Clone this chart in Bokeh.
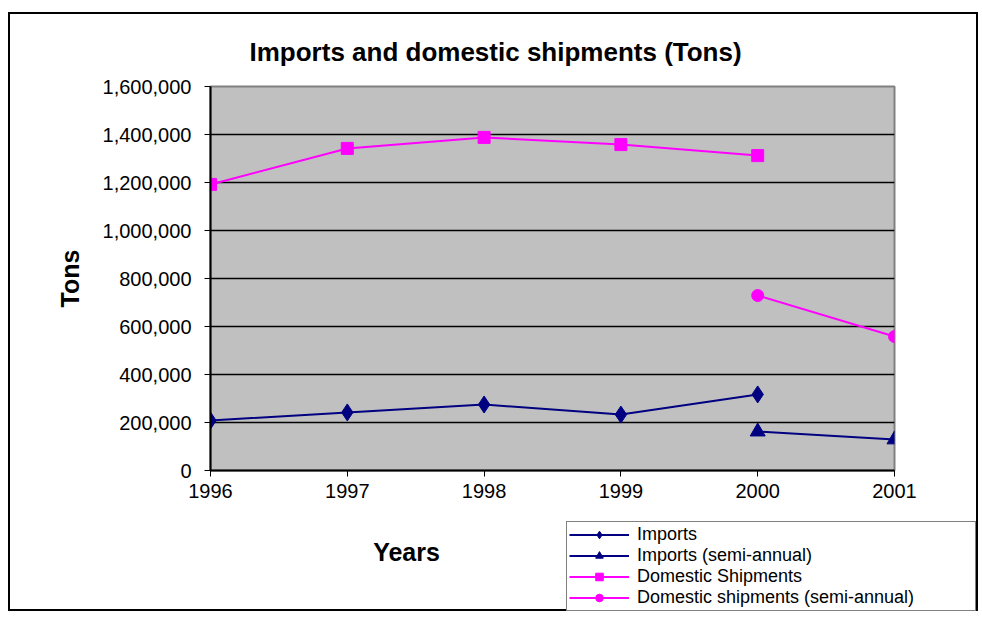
from bokeh.plotting import figure
from bokeh.models import (Range1d, NumeralTickFormatter, FixedTicker, Label, Legend, LegendItem)
from bokeh.embed import file_html
from bokeh.resources import INLINE

years = [1996, 1997, 1998, 1999, 2000]
imports = [208000, 242000, 275000, 233000, 317000]
semi_years = [2000, 2001]
imports_semi = [162000, 129000]
domestic = [1192000, 1342000, 1388000, 1358000, 1312000]
domestic_semi = [729000, 558000]
y_ticks = [0, 200000, 400000, 600000, 800000, 1000000, 1200000, 1400000, 1600000]
x_ticks = [1996, 1997, 1998, 1999, 2000, 2001]
series_labels = ["Imports", "Imports (semi-annual)", "Domestic Shipments",
                 "Domestic shipments (semi-annual)"]

NAVY = "#000080"
MAGENTA = "#FF00FF"
FONT = "Liberation Sans"

series = [
    (years, imports, NAVY, "diamond", 17),
    (semi_years, imports_semi, NAVY, "triangle", 15),
    (years, domestic, MAGENTA, "square", 12),
    (semi_years, domestic_semi, MAGENTA, "circle", 12),
]

# ---- main chart ----
p = figure(width=970, height=508, output_backend="svg", toolbar_location=None,
           x_range=Range1d(1996, 2001), y_range=Range1d(0, 1600000),
           min_border_left=200, min_border_right=86, min_border_top=72, min_border_bottom=52)
p.styles = {"margin-left": "8px", "margin-top": "12px", "border": "2px solid black",
            "border-bottom": "none"}
p.background_fill_color = "#C0C0C0"
p.outline_line_color = "#808080"
p.outline_line_width = 2

p.title.text = "Imports and domestic shipments (Tons)"
p.title.text_font = FONT
p.title.text_font_size = "26px"
p.title.text_font_style = "bold"
p.title.text_color = "black"
p.title.align = "left"
p.title.offset = 39
p.title.standoff = 40

p.xaxis.ticker = FixedTicker(ticks=x_ticks)
p.yaxis.ticker = FixedTicker(ticks=y_ticks)
p.yaxis.formatter = NumeralTickFormatter(format="0,0")
for ax in (p.xaxis, p.yaxis):
    ax.axis_line_color = "black"
    ax.axis_line_width = 2
    ax.major_tick_line_color = "black"
    ax.major_tick_line_width = 1
    ax.major_tick_out = 6
    ax.major_tick_in = 0
    ax.minor_tick_line_color = None
    ax.major_label_text_font = FONT
    ax.major_label_text_font_size = "20px"
    ax.major_label_text_color = "black"
p.yaxis.major_label_standoff = 13
p.xaxis.major_label_standoff = 7
p.yaxis.axis_label = "Tons"
p.yaxis.axis_label_text_font = FONT
p.yaxis.axis_label_text_font_size = "25px"
p.yaxis.axis_label_text_font_style = "bold"
p.yaxis.axis_label_text_color = "black"
p.yaxis.axis_label_standoff = 16

p.xgrid.grid_line_color = None
p.ygrid.grid_line_color = "black"
p.ygrid.grid_line_width = 1.5

for xs, ys, col, mk, sz in series:
    p.line(xs, ys, line_color=col, line_width=2)
    p.scatter(xs, ys, marker=mk, size=sz, fill_color=col, line_color=col)

# ---- bottom strip: axis title and legend ----
q = figure(width=970, height=91, output_backend="svg", toolbar_location=None,
           x_range=Range1d(0, 970), y_range=Range1d(0, 91),
           min_border_left=0, min_border_right=0, min_border_top=0, min_border_bottom=0)
q.styles = {"margin-left": "8px", "border": "2px solid black", "border-top": "none"}
q.axis.visible = False
q.grid.visible = False
q.outline_line_color = None
q.background_fill_color = "white"

# legend proxies: the same series, which fall outside this strip's ranges
items = []
for lab, (xs, ys, col, mk, sz) in zip(series_labels, series):
    rl = q.line(xs, ys, line_color=col, line_width=2)
    rm = q.scatter(xs, ys, marker=mk, size=sz, fill_color=col, line_color=col)
    items.append(LegendItem(label=lab, renderers=[rl, rm]))

legend = Legend(items=items, location=(556, 0))
legend.label_text_font = FONT
legend.label_text_font_size = "18px"
legend.label_text_color = "black"
legend.label_height = 19
legend.glyph_height = 19
legend.glyph_width = 60
legend.label_width = 336
legend.spacing = 0
legend.padding = 2
legend.margin = 0
legend.label_standoff = 8
legend.border_line_color = "black"
legend.border_line_width = 1.5
legend.background_fill_color = "white"
legend.background_fill_alpha = 1
q.add_layout(legend, "center")

q.add_layout(Label(x=396, y=60, text="Years", text_font=FONT, text_font_size="25px",
                   text_font_style="bold", text_color="black",
                   text_align="center", text_baseline="middle"))

open("out.html", "w").write(file_html([p, q], INLINE))
